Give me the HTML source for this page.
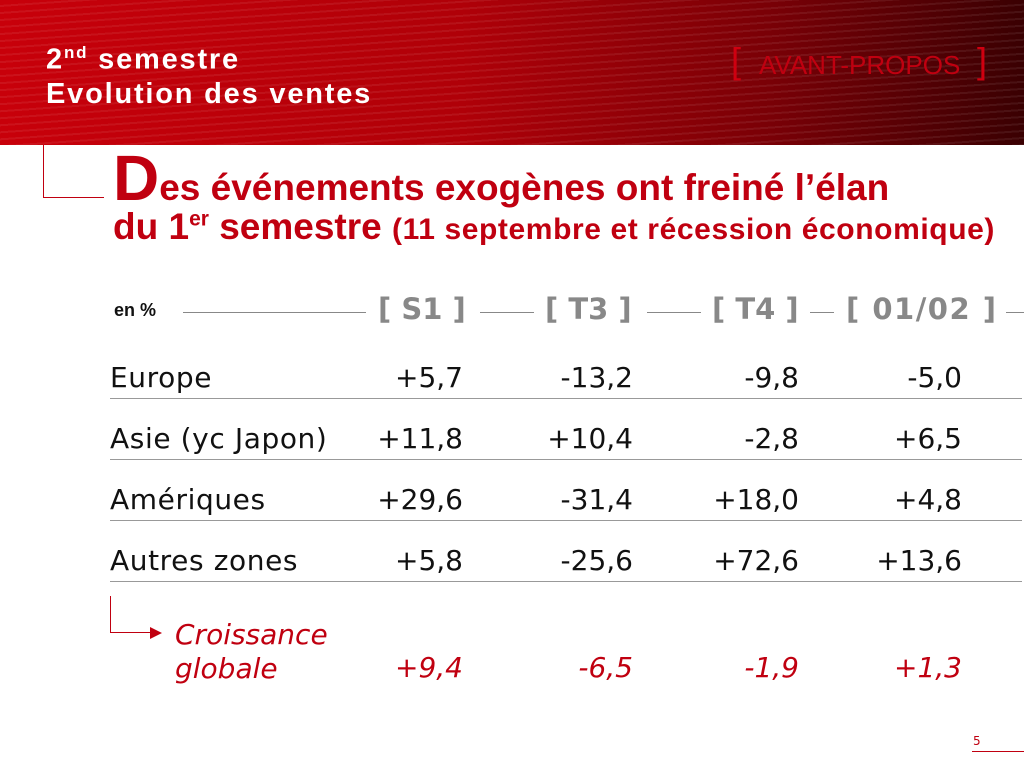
<!DOCTYPE html>
<html><head><meta charset="utf-8">
<style>
body{margin:0;width:1024px;height:768px;overflow:hidden;background:#fff;position:relative;font-family:"DejaVu Sans","Liberation Sans",sans-serif}
.a{position:absolute;white-space:nowrap}
#hdr{left:0;top:0;width:1024px;height:145px;background:linear-gradient(90deg,#c8000a 0%,#b00008 45%,#7a0006 75%,#3a0002 100%);overflow:hidden}
#hdr .stripes{position:absolute;inset:0;background:repeating-linear-gradient(176deg,rgba(255,255,255,0) 0 5px,rgba(255,255,255,.07) 5px 7px);}
.ht{color:#fff;font:bold 29px "Liberation Sans",sans-serif;letter-spacing:1.8px;left:46px}
.row{left:110px;font-size:28px;color:#111;letter-spacing:0.6px}
.v{font-size:28px;color:#111;text-align:right;width:160px}
.line{position:absolute;left:110px;width:912px;height:1px;background:#999}
.col{color:#888;font-weight:bold;font-size:29px}
.red{color:#c00010}
</style></head><body>
<div class="a" id="hdr"><div class="stripes"></div></div>
<div class="a ht" style="top:43px">2<sup style="font-size:17px">nd</sup> semestre</div>
<div class="a ht" style="top:78px">Evolution des ventes</div>
<div class="a" style="left:731px;top:40px;color:#d00010;font:36px 'Liberation Sans',sans-serif">[</div>
<div class="a" style="left:759px;top:50px;color:#c00010;font:26px 'Liberation Sans',sans-serif">AVANT-PROPOS</div>
<div class="a" style="left:977px;top:40px;color:#d00010;font:36px 'Liberation Sans',sans-serif">]</div>

<div class="a" style="left:43px;top:145px;width:60px;height:52px;border-left:1px solid #c00010;border-bottom:1px solid #c00010"></div>
<div class="a red" style="left:113px;top:148px;font:bold 37px 'Liberation Sans',sans-serif"><span style="font-size:64px;line-height:60px">D</span>es événements exogènes ont freiné l’élan</div>
<div class="a red" style="left:113px;top:206px;font:bold 37px 'Liberation Sans',sans-serif">du 1<sup style="font-size:21px">er</sup> semestre <span style="font-size:30px;letter-spacing:0.6px">(11 septembre et récession économique)</span></div>

<div class="a" style="left:114px;top:300px;font:bold 18px 'Liberation Sans',sans-serif;color:#111">en %</div>
<div class="a" style="left:183px;top:312px;width:183px;height:1px;background:#888"></div>
<div class="a col" style="left:378px;top:292px">[ S1 ]</div>
<div class="a" style="left:480px;top:312px;width:54px;height:1px;background:#888"></div>
<div class="a col" style="left:545px;top:292px">[ T3 ]</div>
<div class="a" style="left:647px;top:312px;width:54px;height:1px;background:#888"></div>
<div class="a col" style="left:712px;top:292px">[ T4 ]</div>
<div class="a" style="left:810px;top:312px;width:24px;height:1px;background:#888"></div>
<div class="a col" style="left:846px;top:292px;letter-spacing:1.5px">[ 01/02 ]</div>
<div class="a" style="left:1006px;top:312px;width:18px;height:1px;background:#888"></div>

<div id="tbl"></div>

<div class="a" style="left:110px;top:596px;width:40px;height:36px;border-left:1px solid #c00010;border-bottom:1px solid #c00010"></div>
<div class="a" style="left:150px;top:627px;width:0;height:0;border-left:12px solid #c00010;border-top:6px solid transparent;border-bottom:6px solid transparent"></div>
<div class="a red" style="left:175px;top:618px;font-size:28px;font-style:italic;line-height:34px">Croissance<br>globale</div>

<div class="a red" style="left:973px;top:734px;font-size:12px">5</div>
<div class="a" style="left:972px;top:751px;width:52px;height:1px;background:#c00010"></div>

<script>
const regions=["Europe","Asie (yc Japon)","Amériques","Autres zones"];
const s1=["+5,7","+11,8","+29,6","+5,8"];
const t3=["-13,2","+10,4","-31,4","-25,6"];
const t4=["-9,8","-2,8","+18,0","+72,6"];
const q0102=["-5,0","+6,5","+4,8","+13,6"];
const totals=["+9,4","-6,5","-1,9","+1,3"];
const cols=[s1,t3,t4,q0102];
const right=[463,633,799,962];
const colNames=['s1','t3','t4','01-02'];
const t=document.getElementById('tbl');
regions.forEach((r,i)=>{
  const y=361+i*61;
  const d=document.createElement('div');d.className='a row';d.style.top=y+'px';d.textContent=r;
  
  
  t.appendChild(d);
  cols.forEach((c,j)=>{
    const v=document.createElement('div');v.className='a v';v.style.top=y+'px';v.style.left=(right[j]-160)+'px';v.textContent=c[i];
    
    
    t.appendChild(v);
  });
  const l=document.createElement('div');l.className='line';l.style.top=(y+37)+'px';
  
  
  t.appendChild(l);
});
totals.forEach((v,j)=>{
  const e=document.createElement('div');e.className='a v red';e.style.top='651px';e.style.left=(right[j]-160)+'px';e.style.fontStyle='italic';e.textContent=v;
  
  
  t.appendChild(e);
});
</script>
</body></html>
